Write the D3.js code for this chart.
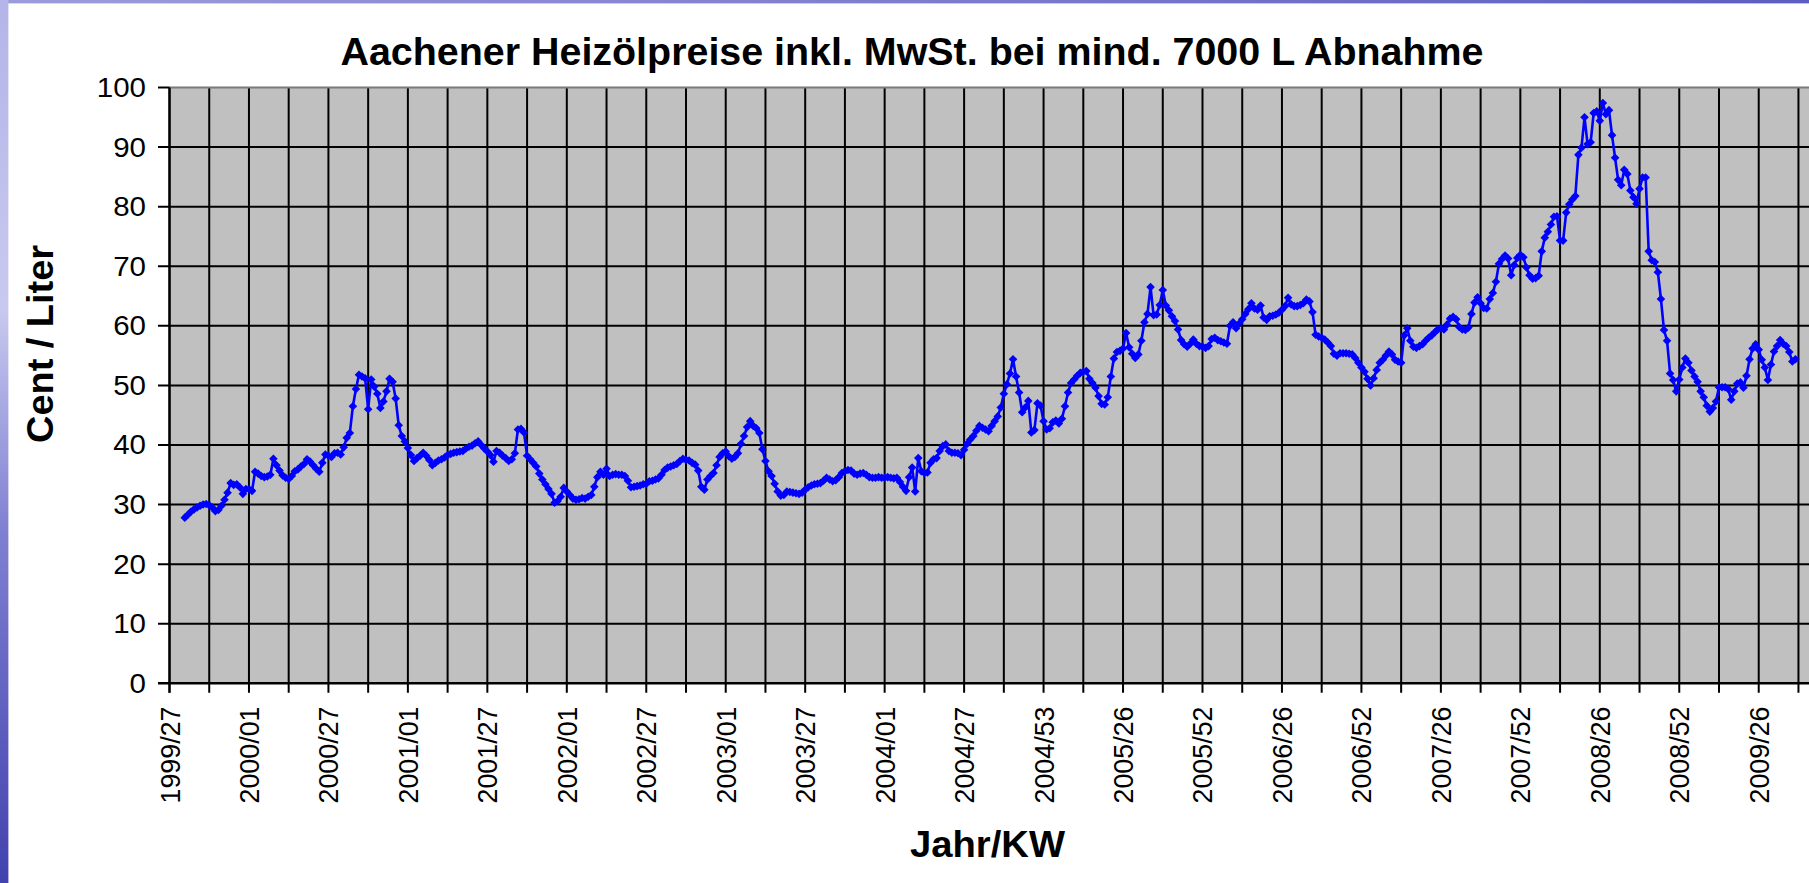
<!DOCTYPE html>
<html><head><meta charset="utf-8">
<script src="https://cdn.jsdelivr.net/npm/d3@7"></script>
<style>html,body{margin:0;padding:0;background:#fff;overflow:hidden}svg{display:block}</style>
</head><body>
<svg id="chart" width="1809" height="883"></svg>
<script>
// ---- data ----
const title = "Aachener Heizölpreise inkl. MwSt. bei mind. 7000 L Abnahme";
const yTitle = "Cent / Liter";
const xTitle = "Jahr/KW";
// year, first week, last week (calendar weeks covered)
const yearWeeks = [[1999,27,52],[2000,1,52],[2001,1,52],[2002,1,52],[2003,1,52],[2004,1,53],[2005,1,52],[2006,1,52],[2007,1,52],[2008,1,52],[2009,1,41]];
const tickLabels = ["1999/27","2000/01","2000/27","2001/01","2001/27","2002/01","2002/27","2003/01","2003/27","2004/01","2004/27","2004/53","2005/26","2005/52","2006/26","2006/52","2007/26","2007/52","2008/26","2008/52","2009/26"];
const yTicks = [0,10,20,30,40,50,60,70,80,90,100];
// weekly price in Cent/Liter, one value per calendar week starting 1999/27
const prices = [
null,null,null,null,null,27.8,28.3,28.8,29.2,29.5,29.8,30.0,30.1,
29.9,29.5,28.9,29.1,29.8,30.8,32.0,33.6,33.3,33.4,32.9,31.8,32.6,
32.6,32.3,35.5,35.2,34.8,34.6,34.7,35.0,37.7,36.6,35.7,34.9,34.5,
34.3,34.8,35.6,35.9,36.4,36.8,37.6,37.2,36.6,36.0,35.5,37.0,38.4,
38.2,38.0,38.6,38.7,38.4,39.6,41.2,42.0,46.5,49.4,51.8,51.5,51.2,
46.0,51.0,49.8,48.6,46.2,47.3,49.0,51.1,50.6,47.8,43.3,41.5,40.6,
39.5,38.3,37.3,37.8,38.2,38.7,38.2,37.5,36.6,37.0,37.4,37.6,37.9,
38.3,38.5,38.7,38.8,38.9,39.0,39.4,39.7,39.9,40.3,40.6,40.0,39.4,
38.9,38.3,37.2,39.0,38.7,38.2,37.8,37.3,37.6,38.6,42.6,42.7,42.1,
38.2,37.6,37.0,36.4,35.2,34.2,33.4,32.6,31.8,30.3,30.6,31.3,32.8,
32.2,31.6,31.0,30.8,30.9,31.1,31.0,31.3,31.6,33.0,34.6,35.5,35.0,
36.0,34.8,35.0,35.1,35.0,35.0,34.8,34.0,32.9,33.0,33.1,33.2,33.4,
33.5,33.9,34.0,34.2,34.4,35.0,35.8,36.2,36.4,36.6,36.8,37.3,37.7,
37.5,37.4,37.0,36.7,35.7,33.0,32.5,34.2,34.8,35.3,36.6,38.0,38.6,
38.9,38.1,37.7,38.0,38.6,40.2,41.5,43.0,44.0,43.2,42.8,42.0,39.3,
37.3,35.6,34.8,33.5,32.2,31.5,31.6,32.2,32.1,32.0,31.9,31.8,32.0,
32.5,32.9,33.2,33.4,33.5,33.6,34.0,34.5,34.2,33.9,34.1,34.6,35.3,
35.6,35.8,35.7,35.2,35.0,35.2,35.3,35.0,34.6,34.5,34.5,34.6,34.5,
34.5,34.6,34.5,34.4,34.5,33.8,33.0,32.3,34.6,36.2,32.2,37.8,35.6,
35.3,35.4,37.0,37.6,37.8,39.0,39.8,40.1,39.0,38.7,38.7,38.6,38.3,
39.2,40.2,40.9,41.5,42.4,43.2,42.9,42.6,42.3,43.2,44.0,44.8,46.3,
48.6,50.2,52.0,54.4,51.5,48.8,45.5,46.3,47.4,42.1,42.5,47.0,46.6,
44.0,42.6,42.8,43.8,44.1,43.6,44.4,46.5,48.8,50.4,51.0,51.6,52.1,
52.3,52.4,51.1,50.4,49.6,48.2,46.9,46.8,48.0,51.5,54.5,55.6,55.8,
56.2,58.8,56.4,55.3,54.6,55.2,57.5,60.6,62.0,66.5,61.8,61.9,63.5,
66.0,63.4,62.6,61.6,60.8,59.4,57.6,56.9,56.5,57.0,57.7,57.0,56.6,
56.5,56.3,56.6,57.8,58.0,57.6,57.4,57.2,57.0,60.0,60.6,59.6,60.4,
61.1,62.0,62.8,63.8,62.9,62.7,63.4,61.4,61.0,61.6,61.7,61.9,62.2,
62.7,63.3,64.7,63.6,63.3,63.3,63.5,63.8,64.4,64.1,62.3,58.5,58.2,
58.0,57.7,57.2,56.6,55.3,55.0,55.4,55.4,55.4,55.3,55.2,54.6,53.8,
53.0,52.3,51.1,50.0,51.2,52.6,53.8,54.3,55.0,55.7,55.2,54.3,54.0,
53.8,58.4,59.6,57.5,56.5,56.3,56.6,56.9,57.5,58.0,58.4,58.9,59.4,
59.6,59.4,60.2,61.2,61.5,61.1,59.8,59.4,59.3,59.7,62.0,63.9,64.8,
63.8,63.0,62.9,64.5,65.5,67.4,70.4,71.2,71.8,71.3,68.5,70.2,71.4,
71.9,71.5,69.8,68.5,67.9,68.0,68.4,72.5,74.8,75.8,77.0,78.3,78.4,
74.3,74.3,79.0,80.4,81.2,81.8,88.7,89.9,95.0,90.5,90.8,95.7,96.0,
94.4,97.4,95.5,96.2,92.0,88.2,84.5,83.6,86.2,85.5,82.7,81.6,80.5,
83.0,84.9,84.9,72.5,71.0,70.7,69.0,64.5,59.3,57.5,52.0,50.9,49.0,
51.0,53.0,54.5,53.8,52.5,51.5,50.6,49.0,48.0,46.6,45.6,46.2,47.3,
49.7,49.7,49.7,49.4,47.6,49.0,50.3,50.5,49.6,51.6,54.4,56.2,56.9,
56.0,54.3,53.0,50.9,53.5,55.7,56.6,57.6,57.0,56.6,55.6,54.0,54.4
];

// ---- categories ----
const weeks = [];
yearWeeks.forEach(([yr,a,b]) => { for (let w=a; w<=b; w++) weeks.push(yr + "/" + String(w).padStart(2,"0")); });
const series = prices.map((v,i) => ({week: weeks[i], value: v}));

(function draw(){
const W = 1809, H = 883;
const pLeft = 169.5, pTop = 87.5, pBottom = 683.3;
const step = 3.0562;
const svg = d3.select("#chart");
const defs = svg.append("defs");
const gL = defs.append("linearGradient").attr("id","gl").attr("x1",0).attr("y1",0).attr("x2",0).attr("y2",1);
gL.append("stop").attr("offset","0%").attr("stop-color","#b4b4e8");
gL.append("stop").attr("offset","35%").attr("stop-color","#c9c9ef");
gL.append("stop").attr("offset","60%").attr("stop-color","#8080d2");
gL.append("stop").attr("offset","100%").attr("stop-color","#4242ae");
const gT = defs.append("linearGradient").attr("id","gt").attr("x1",0).attr("y1",0).attr("x2",1).attr("y2",0);
gT.append("stop").attr("offset","0%").attr("stop-color","#9c9cdc");
gT.append("stop").attr("offset","100%").attr("stop-color","#5e5ec2");

svg.append("rect").attr("width",W).attr("height",H).attr("fill","#fff");
svg.append("rect").attr("x",0).attr("y",0).attr("width",W).attr("height",3.4).attr("fill","url(#gt)");
svg.append("rect").attr("x",0).attr("y",0).attr("width",8.4).attr("height",H).attr("fill","url(#gl)");

const x = d3.scalePoint().domain(weeks).range([pLeft, pLeft + (weeks.length-1)*step]);
const y = d3.scaleLinear().domain([0,100]).range([pBottom, pTop]);

svg.append("rect").attr("x",pLeft).attr("y",pTop).attr("width",W - pLeft + 5).attr("height",pBottom - pTop).attr("fill","#c0c0c0");

const gridWeeks = weeks.filter((d,i) => i % 13 === 0);
svg.append("g").selectAll("line").data(gridWeeks).join("line")
  .attr("x1", d => x(d)).attr("x2", d => x(d))
  .attr("y1", pTop).attr("y2", pBottom + 9.5)
  .attr("stroke","#000").attr("stroke-width",2);
svg.append("g").selectAll("line").data(yTicks.filter(v => v>0 && v<100)).join("line")
  .attr("x1", pLeft - 11.5).attr("x2", W + 5)
  .attr("y1", d => y(d)).attr("y2", d => y(d))
  .attr("stroke","#000").attr("stroke-width",2);
svg.append("line").attr("x1",pLeft).attr("x2",W+5).attr("y1",y(100)).attr("y2",y(100)).attr("stroke","#7a7a7a").attr("stroke-width",2);
svg.append("line").attr("x1",pLeft-11.5).attr("x2",pLeft).attr("y1",y(100)).attr("y2",y(100)).attr("stroke","#000").attr("stroke-width",2);
svg.append("line").attr("x1",pLeft).attr("x2",pLeft).attr("y1",pTop).attr("y2",pBottom+9.5).attr("stroke","#000").attr("stroke-width",2.2);
svg.append("line").attr("x1",pLeft-11.5).attr("x2",W+5).attr("y1",pBottom).attr("y2",pBottom).attr("stroke","#000").attr("stroke-width",2.4);

svg.append("g").selectAll("text").data(yTicks).join("text")
  .attr("x", 146).attr("y", d => y(d) + 9.5)
  .attr("text-anchor","end")
  .attr("font-family","'Liberation Sans', Arial, sans-serif").attr("font-size",27.5)
  .attr("textLength", d => String(d).length * 16.4).attr("lengthAdjust","spacingAndGlyphs")
  .attr("fill","#000").text(d => d);

svg.append("g").selectAll("text").data(tickLabels).join("text")
  .attr("transform", d => `translate(${x(d) + 10},706.5) rotate(-90)`)
  .attr("text-anchor","end")
  .attr("font-family","'Liberation Sans', Arial, sans-serif").attr("font-size",28)
  .attr("textLength",97).attr("lengthAdjust","spacingAndGlyphs")
  .attr("fill","#000").text(d => d);

svg.append("text").attr("x",912).attr("y",65).attr("text-anchor","middle")
  .attr("font-family","'Liberation Sans', Arial, sans-serif").attr("font-weight","bold").attr("font-size",39)
  .attr("textLength",1143).attr("lengthAdjust","spacingAndGlyphs").text(title);
svg.append("text").attr("transform","translate(53,344) rotate(-90)").attr("text-anchor","middle")
  .attr("font-family","'Liberation Sans', Arial, sans-serif").attr("font-weight","bold").attr("font-size",37.5)
  .attr("textLength",198).attr("lengthAdjust","spacingAndGlyphs").text(yTitle);
svg.append("text").attr("x",987.5).attr("y",857).attr("text-anchor","middle")
  .attr("font-family","'Liberation Sans', Arial, sans-serif").attr("font-weight","bold").attr("font-size",37.5)
  .attr("textLength",155).attr("lengthAdjust","spacingAndGlyphs").text(xTitle);

const line = d3.line().defined(d => d.value != null).x(d => x(d.week)).y(d => y(d.value));
svg.append("path").datum(series).attr("d", line).attr("fill","none").attr("stroke","#0000ff").attr("stroke-width",2.6).attr("stroke-linejoin","round");
const r = 4.3;
svg.append("g").selectAll("path").data(series.filter(d => d.value != null)).join("path")
  .attr("transform", d => `translate(${x(d.week)},${y(d.value)})`)
  .attr("d", `M0,${-r}L${r},0L0,${r}L${-r},0Z`)
  .attr("fill","#0000ff");
})();
</script>
</body></html>
